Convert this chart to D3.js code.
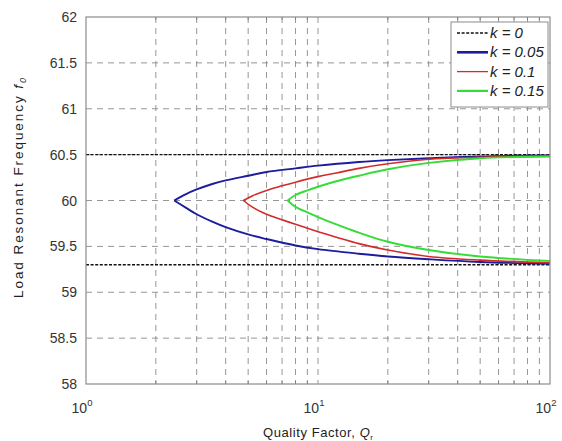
<!DOCTYPE html>
<html><head><meta charset="utf-8">
<script src="https://cdn.jsdelivr.net/npm/d3@7"></script>
<style>body{margin:0;background:#fff}svg{display:block}text{font-family:"Liberation Sans",Arial,sans-serif}</style>
</head><body><svg id="c" width="562" height="441"></svg>
<script>
// ---- data ----
const seriesNames = ["k = 0", "k = 0.05", "k = 0.1", "k = 0.15"];
const k0Levels = [60.5, 59.3];
// k = 0.05 (blue)
const qBlueUp  = [2.4, 2.7, 3.0, 3.5, 4, 5, 6, 8, 10, 15, 20, 30, 50, 100];
const fBlueUp  = [60.0, 60.07, 60.12, 60.18, 60.22, 60.27, 60.31, 60.35, 60.38, 60.42, 60.44, 60.46, 60.48, 60.49];
const qBlueLo  = [2.4, 2.7, 3.0, 3.5, 4, 5, 6, 8, 10, 15, 20, 30, 50, 100];
const fBlueLo  = [60.0, 59.92, 59.85, 59.77, 59.71, 59.63, 59.58, 59.51, 59.47, 59.42, 59.39, 59.36, 59.33, 59.31];
// k = 0.1 (red)
const qRedUp   = [4.77, 5.2, 6, 7, 8, 10, 12, 15, 20, 30, 50, 100];
const fRedUp   = [60.0, 60.05, 60.11, 60.16, 60.20, 60.26, 60.30, 60.35, 60.40, 60.45, 60.47, 60.49];
const qRedLo   = [4.77, 5.2, 6, 7, 8, 10, 12, 15, 20, 30, 50, 100];
const fRedLo   = [60.0, 59.93, 59.85, 59.79, 59.74, 59.66, 59.60, 59.53, 59.46, 59.39, 59.35, 59.32];
// k = 0.15 (green)
const qGreenUp = [7.4, 8, 9, 10, 12, 15, 20, 30, 50, 100];
const fGreenUp = [60.0, 60.06, 60.11, 60.15, 60.21, 60.27, 60.34, 60.41, 60.46, 60.48];
const qGreenLo = [7.4, 8, 9, 10, 12, 15, 20, 30, 50, 100];
const fGreenLo = [60.0, 59.93, 59.87, 59.82, 59.74, 59.65, 59.55, 59.46, 59.39, 59.34];
const yTicks = [58, 58.5, 59, 59.5, 60, 60.5, 61, 61.5, 62];
const xMajor = [1, 10, 100];
const xMinor = [2,3,4,5,6,7,8,9,20,30,40,50,60,70,80,90];

// ---- layout ----
const L = 86, R = 550, T = 17, B = 384;
const svg = d3.select("#c");
const x = d3.scaleLog().domain([1, 100]).range([L, R]);
const y = d3.scaleLinear().domain([58, 62]).range([B, T]);

// grid
const g = svg.append("g");
g.selectAll("line.vg").data(xMajor.concat(xMinor).filter(v => v > 1 && v < 100)).join("line")
  .attr("x1", d => x(d)).attr("x2", d => x(d)).attr("y1", T).attr("y2", B)
  .attr("stroke", "#8a8a8a").attr("stroke-width", 0.9).attr("stroke-dasharray", "6,5");
g.selectAll("line.hg").data(yTicks.filter(v => v > 58 && v < 62)).join("line")
  .attr("x1", L).attr("x2", R).attr("y1", d => y(d)).attr("y2", d => y(d))
  .attr("stroke", "#8a8a8a").attr("stroke-width", 0.9).attr("stroke-dasharray", "6,5");

// minor ticks inside top/bottom
const tk = svg.append("g").attr("stroke", "#777").attr("stroke-width", 0.8);
xMinor.forEach(v => {
  tk.append("line").attr("x1", x(v)).attr("x2", x(v)).attr("y1", B).attr("y2", B - 3);
  tk.append("line").attr("x1", x(v)).attr("x2", x(v)).attr("y1", T).attr("y2", T + 3);
});

// k = 0 lines
svg.selectAll("line.k0").data(k0Levels).join("line")
  .attr("x1", L).attr("x2", R).attr("y1", d => y(d)).attr("y2", d => y(d))
  .attr("stroke", "#111").attr("stroke-width", 1.3).attr("stroke-dasharray", "3,1.6");

const line = d3.line().x(d => x(d[0])).y(d => y(d[1])).curve(d3.curveCatmullRom.alpha(0.5));
const zip = (a, b) => a.map((v, i) => [v, b[i]]);
const curves = [
  {q: qBlueUp, f: fBlueUp, c: "#1c1c9c", w: 1.9},
  {q: qBlueLo, f: fBlueLo, c: "#1c1c9c", w: 1.9},
  {q: qRedUp, f: fRedUp, c: "#d42a2a", w: 1.6},
  {q: qRedLo, f: fRedLo, c: "#d42a2a", w: 1.6},
  {q: qGreenUp, f: fGreenUp, c: "#35dc35", w: 1.9},
  {q: qGreenLo, f: fGreenLo, c: "#35dc35", w: 1.9}
];
curves.forEach(s => {
  svg.append("path").attr("d", line(zip(s.q, s.f))).attr("fill", "none")
    .attr("stroke", s.c).attr("stroke-width", s.w).attr("stroke-linejoin", "round");
});

// frame
svg.append("rect").attr("x", L).attr("y", T).attr("width", R - L).attr("height", B - T)
  .attr("fill", "none").attr("stroke", "#8c8c8c").attr("stroke-width", 1.2);

// y tick labels
svg.selectAll("text.yt").data(yTicks).join("text")
  .attr("x", L - 9).attr("y", d => y(d) + 5).attr("text-anchor", "end")
  .attr("font-size", 14).attr("fill", "#333").text(d => d);

// x tick labels
xMajor.forEach((v, i) => {
  const t = svg.append("text").attr("x", x(v) - 4).attr("y", B + 29)
    .attr("text-anchor", "middle").attr("font-size", 14).attr("fill", "#333");
  t.append("tspan").text("10");
  t.append("tspan").attr("dy", -7).attr("font-size", 9.5).text(String(Math.round(Math.log10(v))));
});

// axis labels
const xl = svg.append("text").attr("x", 318).attr("y", 437).attr("text-anchor", "middle")
  .attr("font-size", 13).attr("fill", "#222")
  .attr("textLength", 110).attr("lengthAdjust", "spacing");
xl.append("tspan").text("Quality Factor, ");
xl.append("tspan").attr("font-style", "italic").text("Q");
xl.append("tspan").attr("font-size", 8).attr("dy", 3).text("r");

const yl = svg.append("text").attr("transform", "translate(23,188) rotate(-90)")
  .attr("text-anchor", "middle").attr("font-size", 13.5).attr("fill", "#222")
  .attr("textLength", 220).attr("lengthAdjust", "spacing");
yl.append("tspan").text("Load Resonant Frequency ");
yl.append("tspan").attr("font-style", "italic").text("f");
yl.append("tspan").attr("font-style", "italic").attr("font-size", 9).attr("dy", 3).text("0");

// legend
const lg = svg.append("g");
lg.append("rect").attr("x", 451).attr("y", 22).attr("width", 97).attr("height", 85)
  .attr("fill", "#fff").attr("stroke", "#8c8c8c").attr("stroke-width", 1);
const legStyles = [
  {c: "#111", w: 1.5, dash: "3,1.6"},
  {c: "#1c1c9c", w: 2.6, dash: null},
  {c: "#d42a2a", w: 1.3, dash: null},
  {c: "#35dc35", w: 2.2, dash: null}
];
seriesNames.forEach((n, i) => {
  const yy = 33 + i * 19.3;
  const st = legStyles[i];
  const l = lg.append("line").attr("x1", 457).attr("x2", 488).attr("y1", yy).attr("y2", yy)
    .attr("stroke", st.c).attr("stroke-width", st.w);
  if (st.dash) l.attr("stroke-dasharray", st.dash);
  lg.append("text").attr("x", 490).attr("y", yy + 5).attr("font-size", 15)
    .attr("font-style", "italic").attr("fill", "#222").text(n);
});
</script></body></html>
